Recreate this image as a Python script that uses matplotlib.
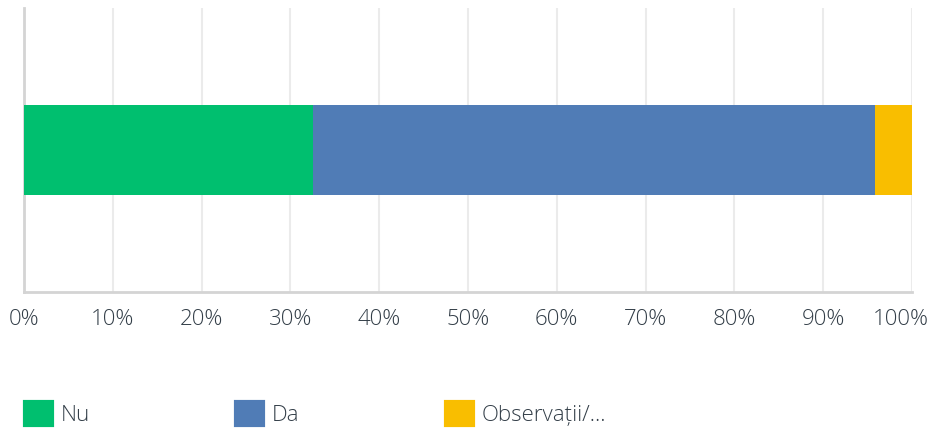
import matplotlib.pyplot as plt
import matplotlib.transforms as mtransforms
from matplotlib.patches import Patch
from matplotlib.ticker import FuncFormatter

plt.rcParams['font.family'] = ['Open Sans', 'DejaVu Sans']
plt.rcParams['font.weight'] = 'light'

categorii = ["Nu", "Da", "Observații/..."]
procente = [32.6, 63.2, 4.2]
culori = ["#00bf6f", "#507cb6", "#f9be00"]
ticks = [0, 10, 20, 30, 40, 50, 60, 70, 80, 90, 100]

fig = plt.figure(figsize=(9.3, 4.3), dpi=100)
ax = fig.add_axes([24 / 930, 138 / 430, 888 / 930, 284 / 430])

stanga = 0
for cat, val, col in zip(categorii, procente, culori):
    ax.barh(0, val, left=stanga, height=0.32, color=col, label=cat, zorder=3)
    stanga += val

ax.set_xlim(0, 100)
ax.set_ylim(-0.5, 0.5)
ax.set_xticks(ticks)
ax.xaxis.set_major_formatter(FuncFormatter(lambda v, p: f"{v:.0f}%"))
ax.set_yticks([])
ax.grid(axis='x', color='#ebebeb', linewidth=1.5, zorder=0)
for s in ['top', 'right']:
    ax.spines[s].set_visible(False)
for s in ['left', 'bottom']:
    ax.spines[s].set_color('#d4d4d4')
    ax.spines[s].set_linewidth(2)
ax.tick_params(axis='x', length=0, pad=12, labelsize=16, labelcolor='#333e48')

# ultima eticheta (100%) mutata putin spre stanga ca sa incapa
ultima = ax.get_xticklabels()[-1]
ultima.set_transform(ultima.get_transform() +
                     mtransforms.ScaledTranslation(-11 / 100, 0, fig.dpi_scale_trans))

handles = [Patch(facecolor=c, edgecolor=c, linewidth=3, joinstyle='round') for c in culori]
leg = fig.legend(handles=handles, labels=categorii, loc='lower left',
                 bbox_to_anchor=(5 / 930, -16 / 430), ncol=3, frameon=False,
                 fontsize=16, labelcolor='#333e48', handlelength=1.2,
                 handleheight=1.2, handletextpad=0.4, columnspacing=6.6)

fig.savefig("out.png", dpi=100, facecolor='white')
